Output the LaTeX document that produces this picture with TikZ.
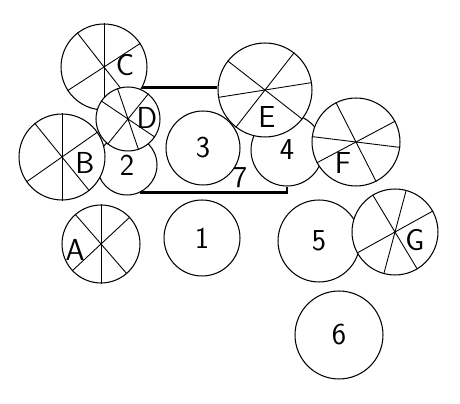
\documentclass[tikz,border=0pt]{standalone}
\usepackage{tikz}
\usetikzlibrary{positioning}

\begin{document}
\begin{tikzpicture}[
		x=0.02cm, y=-0.02cm,
		disc/.style={
			circle,
			draw,
			line width=0.6pt,
			inner sep=0pt,
			minimum size=#1*0.04cm,
			font=\LARGE\sffamily
		},
		wheel/.style={disc=#1, fill=white},
		spoke/.style={line width=0.5pt},
		bar/.style={line width=1.3pt},
		tag/.style={font=\LARGE\sffamily}
		]
		
		\useasboundingbox (0,0) rectangle (460,404);
		
		% plain discs
		\node[disc=30] (n2) at (127,165) {2};
		\node[disc=37] (n3) at (203,148) {3};
		\node[disc=36] (n4) at (287,150) {4};
		\node[disc=38] (n1) at (202,238) {1};
		\node[disc=41] (n5) at (319,241) {5};
		\node[disc=44] (n6) at (339,335) {6};
		
		% split discs, each one over what lies below it
		\node[wheel=43] (C) at (104,67) {};
		\foreach \a in {90,128,33} \draw[spoke] (C.\a) -- (C.\a+180);
		\node[wheel=32] (D) at (128,119) {};
		\foreach \a in {146,109,51} \draw[spoke] (D.\a) -- (D.\a+180);
		\node[wheel=43] (B) at (62,157) {};
		\foreach \a in {90,129,35} \draw[spoke] (B.\a) -- (B.\a+180);
		\node[wheel=47] (E) at (265,90) {};
		\foreach \a in {142,52,9} \draw[spoke] (E.\a) -- (E.\a+180);
		\node[wheel=44] (F) at (356,142) {};
		\foreach \a in {117,-7,28} \draw[spoke] (F.\a) -- (F.\a+180);
		\node[wheel=39] (A) at (101,244) {};
		\foreach \a in {90,131,43} \draw[spoke] (A.\a) -- (A.\a+180);
		\node[wheel=43] (G) at (395,232) {};
		\foreach \a in {121,75,29} \draw[spoke] (G.\a) -- (G.\a+180);
		
		\path (C) ++(21,-2) node[tag] {C};
		\path (D) ++(19,-1) node[tag] {D};
		\path (B) ++(23,6) node[tag] {B};
		\path (E) ++(2,27) node[tag] {E};
		\path (F) ++(-13,21) node[tag] {F};
		\path (A) ++(-26,6) node[tag] {A};
		\path (G) ++(20,8) node[tag] {G};
		
		% bars
		\draw[bar] (C.-28) -- (C.-28 -| E.west);
		\draw[bar] (n2.-64) -| (n4.south);
		\node[tag] (seven) at (240,178) {7};
		
	\end{tikzpicture}
\end{document}
